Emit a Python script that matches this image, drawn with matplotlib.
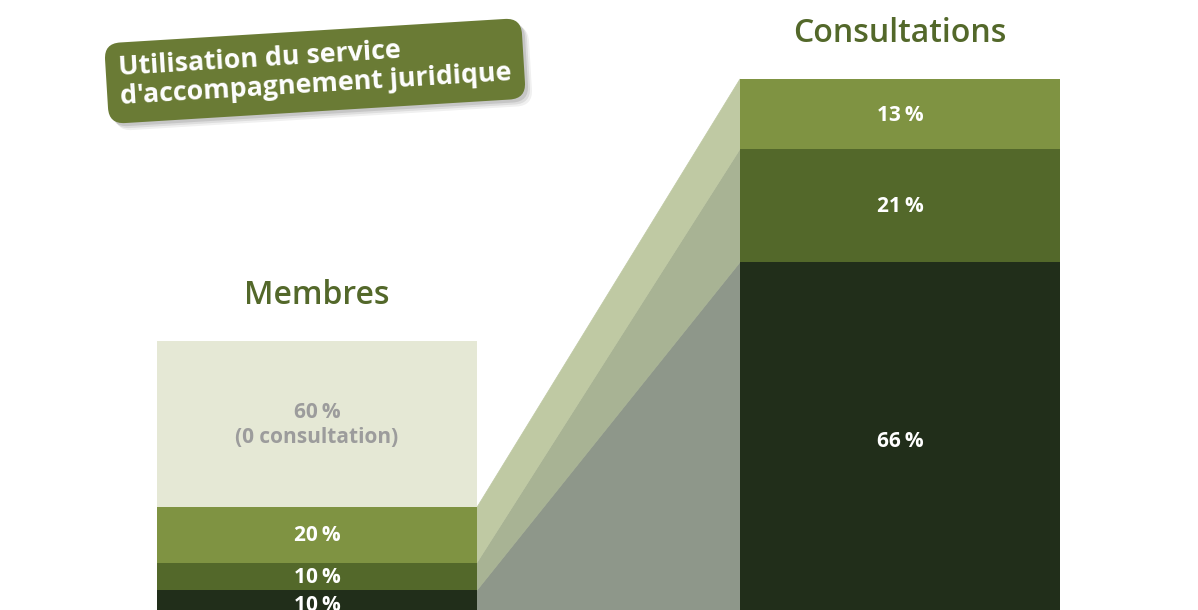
import numpy
import matplotlib
matplotlib.use("Agg")
import matplotlib.pyplot as plt
from matplotlib.patches import Rectangle, Polygon

plt.rcParams["font.family"] = ["Open Sans", "DejaVu Sans"]

# data, bottom to top
MEMBRES_VALUES = [10, 10, 20, 60]
MEMBRES_LABELS = ["10\u2009%", "10\u2009%", "20\u2009%", "60\u2009%\n(0 consultation)"]
CONSULT_VALUES = [66, 21, 13]
CONSULT_LABELS = ["66\u2009%", "21\u2009%", "13\u2009%"]
HEADERS = ["Membres", "Consultations"]
TITLE = "Utilisation du service\nd'accompagnement juridique"

# styles
SEGMENT_COLORS = ["#212E1A", "#53682A", "#7F9342", "#E5E8D5"]
LABEL_COLORS = ["white", "white", "white", "#9C9C9C"]
BAND_COLORS = ["#8E978A", "#A8B394", "#BFC9A3"]
HEADER_COLOR = "#53682A"
TITLE_BOX = "#6A7B35"

# layout in pixels (figure is 1198 x 610)
BASE_Y = 618
LEFT_X, RIGHT_X, BAR_W = 157, 740, 320
LEFT_H, RIGHT_H = 277, 539


def stack_edges(values, total_height):
    cumulative = numpy.concatenate([[0], numpy.cumsum(values)]) / 100 * total_height
    return BASE_Y - cumulative


figure = plt.figure(figsize=(11.98, 6.10), dpi=100)
axis = figure.add_axes([0, 0, 1, 1])
axis.set_xlim(0, 1198)
axis.set_ylim(610, 0)
axis.axis("off")

left_edges = stack_edges(MEMBRES_VALUES, LEFT_H)
right_edges = stack_edges(CONSULT_VALUES, RIGHT_H)

# connecting bands
for index, color in enumerate(BAND_COLORS):
    polygon = Polygon([
        (LEFT_X + BAR_W, left_edges[index]),
        (RIGHT_X, right_edges[index]),
        (RIGHT_X, right_edges[index + 1]),
        (LEFT_X + BAR_W, left_edges[index + 1]),
    ], closed=True, facecolor=color, edgecolor=color, linewidth=0.5, zorder=1)
    axis.add_patch(polygon)

for index, value in enumerate(MEMBRES_VALUES):
    top, bottom = left_edges[index + 1], left_edges[index]
    axis.add_patch(Rectangle((LEFT_X, top), BAR_W, bottom - top,
                             facecolor=SEGMENT_COLORS[index], edgecolor="none", zorder=2))
    axis.text(LEFT_X + BAR_W / 2, (top + bottom) / 2 + 1, MEMBRES_LABELS[index],
              ha="center", va="center", fontsize=15, fontweight="bold",
              color=LABEL_COLORS[index], linespacing=1.2, zorder=3)

for index, value in enumerate(CONSULT_VALUES):
    top, bottom = right_edges[index + 1], right_edges[index]
    axis.add_patch(Rectangle((RIGHT_X, top), BAR_W, bottom - top,
                             facecolor=SEGMENT_COLORS[index], edgecolor="none", zorder=2))
    axis.text(RIGHT_X + BAR_W / 2, (top + bottom) / 2 + 1, CONSULT_LABELS[index],
              ha="center", va="center", fontsize=15, fontweight="bold",
              color="white", zorder=3)

for x_left, edges, header in [(LEFT_X, left_edges, HEADERS[0]), (RIGHT_X, right_edges, HEADERS[1])]:
    axis.text(x_left + BAR_W / 2, edges[-1] - 45, header, ha="center", va="center",
              fontsize=23, fontweight="semibold", color=HEADER_COLOR)

# title badge with soft shadow
title_style = dict(ha="center", va="center", rotation=3.5, rotation_mode="anchor",
                   fontsize=19.3, fontweight="bold", linespacing=1.15, multialignment="left")
for offset, alpha in [(7, 0.06), (5, 0.08), (3, 0.10)]:
    axis.text(315 + offset, 71 + offset, TITLE, color="none",
              bbox=dict(boxstyle="round,pad=0.48,rounding_size=0.6", facecolor="black",
                        edgecolor="none", alpha=alpha), **title_style)
axis.text(315, 71, TITLE, color="white",
          bbox=dict(boxstyle="round,pad=0.48,rounding_size=0.6", facecolor=TITLE_BOX, edgecolor="none"),
          **title_style)

figure.savefig("out.png", dpi=100)
